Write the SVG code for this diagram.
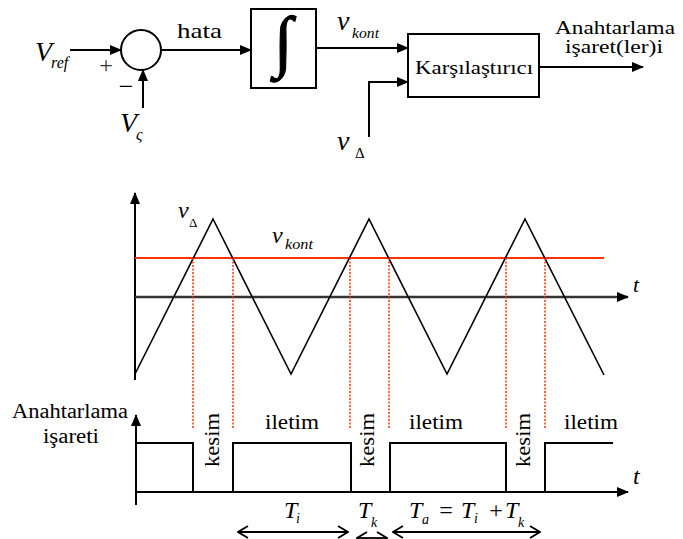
<svg xmlns="http://www.w3.org/2000/svg" width="683" height="539" viewBox="0 0 683 539">
<style>
.it{font-style:italic}
.ln{stroke:#000;stroke-width:2;fill:none}
.wv{stroke:#000;stroke-width:1.6;fill:none}
.red{stroke:#ff3300;stroke-width:2.2;fill:none}
.dot{stroke:#ff3300;stroke-width:1.5;stroke-dasharray:2 1.5;fill:none}
.box{stroke:#000;stroke-width:2;fill:#fff}
</style>
<defs>
<marker id="ah" markerWidth="12" markerHeight="10" refX="11" refY="5" orient="auto" markerUnits="userSpaceOnUse"><path d="M0,0 L12,5 L0,10 z" fill="#000"/></marker>
<marker id="oa" markerWidth="12" markerHeight="14" refX="11" refY="7" orient="auto-start-reverse" markerUnits="userSpaceOnUse"><path d="M1,1 L11,7 L1,13" fill="none" stroke="#000" stroke-width="1.8"/></marker>
</defs>
<rect width="683" height="539" fill="#fff"/>

<g id="sum">
<circle cx="141" cy="50" r="20" class="box"/>
<text font-family="Liberation Serif" x="106" y="73" font-size="24" text-anchor="middle" fill="#333">+</text>
<text font-family="Liberation Serif" x="126" y="95" font-size="26" text-anchor="middle">−</text>
</g>
<g id="integrator">
<rect x="251" y="9" width="65" height="79" class="box"/>
<text font-family="Liberation Serif" x="283" y="64" font-size="68" text-anchor="middle" stroke="#000" stroke-width="1.2">∫</text>
</g>
<g id="comparator">
<rect x="408" y="34" width="131" height="63" class="box"/>
<text font-family="Liberation Serif" x="415" y="74" font-size="19" textLength="118" lengthAdjust="spacingAndGlyphs">Karşılaştırıcı</text>
</g>
<g id="vref">
<text font-family="Liberation Serif" class="it" x="35" y="61" font-size="28">V</text>
<text font-family="Liberation Serif" class="it" x="51" y="68" font-size="16">ref</text>
</g>
<g id="vc">
<text font-family="Liberation Serif" class="it" x="120" y="132" font-size="28">V</text>
<text font-family="Liberation Serif" class="it" x="136" y="140" font-size="16">ς</text>
</g>
<g id="hata"><text font-family="Liberation Serif" x="177" y="38" font-size="22" textLength="45" lengthAdjust="spacingAndGlyphs">hata</text></g>
<g id="vkont-top">
<text font-family="Liberation Serif" class="it" x="337" y="30" font-size="28">v</text>
<text font-family="Liberation Serif" class="it" x="352" y="38" font-size="15" textLength="27" lengthAdjust="spacingAndGlyphs">kont</text>
</g>
<g id="vdelta-top">
<text font-family="Liberation Serif" class="it" x="337" y="150" font-size="28">v</text>
<text font-family="Liberation Serif" x="355" y="158" font-size="15">Δ</text>
</g>
<g id="output-label">
<text font-family="Liberation Serif" x="615" y="34" font-size="18" text-anchor="middle" textLength="120" lengthAdjust="spacingAndGlyphs">Anahtarlama</text>
<text font-family="Liberation Serif" x="614" y="53" font-size="18" text-anchor="middle" textLength="98" lengthAdjust="spacingAndGlyphs">işaret(ler)i</text>
</g>

<g id="connectors">
<line x1="70" y1="50" x2="121" y2="50" class="ln" marker-end="url(#ah)"/>
<line x1="143" y1="108" x2="143" y2="70" class="ln" marker-end="url(#ah)"/>
<line x1="161" y1="50" x2="251" y2="50" class="ln" marker-end="url(#ah)"/>
<line x1="316" y1="48" x2="408" y2="48" class="ln" marker-end="url(#ah)"/>
<polyline points="369,137 369,82 408,82" class="ln" marker-end="url(#ah)"/>
<line x1="539" y1="67" x2="643" y2="67" class="ln" marker-end="url(#ah)"/>
</g>

<g id="waveform">
<line x1="135" y1="380" x2="135" y2="193" class="ln" marker-end="url(#ah)"/>
<line x1="135" y1="297" x2="628" y2="297" stroke="#333" stroke-width="2.4" marker-end="url(#ah)"/>
<line x1="135" y1="258" x2="604" y2="258" class="red"/>
<polyline points="135,374 213,219 291,374 369,219 447,374 525,219 604,375" class="wv"/>
<g class="dot">
<line x1="193" y1="258" x2="193" y2="428"/>
<line x1="233" y1="258" x2="233" y2="428"/>
<line x1="350" y1="258" x2="350" y2="428"/>
<line x1="389" y1="258" x2="389" y2="428"/>
<line x1="506" y1="258" x2="506" y2="428"/>
<line x1="545" y1="258" x2="545" y2="428"/>
</g>
<text font-family="Liberation Serif" class="it" x="178" y="218" font-size="24">v</text>
<text font-family="Liberation Serif" x="189" y="227" font-size="13">Δ</text>
<text font-family="Liberation Serif" class="it" x="272" y="243" font-size="24">v</text>
<text font-family="Liberation Serif" class="it" x="285" y="249" font-size="14" textLength="28" lengthAdjust="spacingAndGlyphs">kont</text>
<text font-family="Liberation Serif" class="it" x="633" y="292" font-size="22">t</text>
</g>

<g id="switching">
<line x1="136" y1="505" x2="136" y2="415" class="ln" marker-end="url(#ah)"/>
<line x1="136" y1="492" x2="628" y2="492" class="ln" marker-end="url(#ah)"/>
<polyline points="136,443 193,443 193,492 233,492 233,443 351,443 351,492 390,492 390,443 506,443 506,492 545,492 545,443 613,443" class="ln"/>
<text font-family="Liberation Serif" x="70" y="418" font-size="20" text-anchor="middle" textLength="116" lengthAdjust="spacingAndGlyphs">Anahtarlama</text>
<text font-family="Liberation Serif" x="71" y="443" font-size="20" text-anchor="middle" textLength="56" lengthAdjust="spacingAndGlyphs">işareti</text>
<text font-family="Liberation Serif" x="292" y="429" font-size="20" text-anchor="middle" textLength="54" lengthAdjust="spacingAndGlyphs">iletim</text>
<text font-family="Liberation Serif" x="436" y="429" font-size="20" text-anchor="middle" textLength="54" lengthAdjust="spacingAndGlyphs">iletim</text>
<text font-family="Liberation Serif" x="591" y="429" font-size="20" text-anchor="middle" textLength="54" lengthAdjust="spacingAndGlyphs">iletim</text>
<text font-family="Liberation Serif" font-size="20" text-anchor="middle" textLength="54" lengthAdjust="spacingAndGlyphs" transform="translate(219,440) rotate(-90)">kesim</text>
<text font-family="Liberation Serif" font-size="20" text-anchor="middle" textLength="54" lengthAdjust="spacingAndGlyphs" transform="translate(374,440) rotate(-90)">kesim</text>
<text font-family="Liberation Serif" font-size="20" text-anchor="middle" textLength="54" lengthAdjust="spacingAndGlyphs" transform="translate(530,440) rotate(-90)">kesim</text>
<text font-family="Liberation Serif" class="it" x="633" y="484" font-size="24">t</text>
<text font-family="Liberation Serif" class="it" x="284" y="518" font-size="24">T</text>
<text font-family="Liberation Serif" class="it" x="296" y="523" font-size="14">i</text>
<text font-family="Liberation Serif" class="it" x="358" y="518" font-size="24">T</text>
<text font-family="Liberation Serif" class="it" x="371" y="527" font-size="14">k</text>
<text font-family="Liberation Serif" class="it" x="409" y="518" font-size="24">T</text>
<text font-family="Liberation Serif" class="it" x="422" y="524" font-size="14">a</text>
<text font-family="Liberation Serif" x="446" y="518" font-size="24" text-anchor="middle">=</text>
<text font-family="Liberation Serif" class="it" x="461" y="518" font-size="24">T</text>
<text font-family="Liberation Serif" class="it" x="474" y="523" font-size="14">i</text>
<text font-family="Liberation Serif" x="496" y="518" font-size="24" text-anchor="middle">+</text>
<text font-family="Liberation Serif" class="it" x="505" y="518" font-size="24">T</text>
<text font-family="Liberation Serif" class="it" x="518" y="527" font-size="14">k</text>
<line x1="238" y1="532" x2="348" y2="532" stroke="#000" stroke-width="1.8" marker-start="url(#oa)" marker-end="url(#oa)"/>
<line x1="357" y1="538" x2="387" y2="538" stroke="#000" stroke-width="1.8" marker-start="url(#oa)" marker-end="url(#oa)"/>
<line x1="393" y1="532" x2="540" y2="532" stroke="#000" stroke-width="1.8" marker-start="url(#oa)" marker-end="url(#oa)"/>
</g>
</svg>
